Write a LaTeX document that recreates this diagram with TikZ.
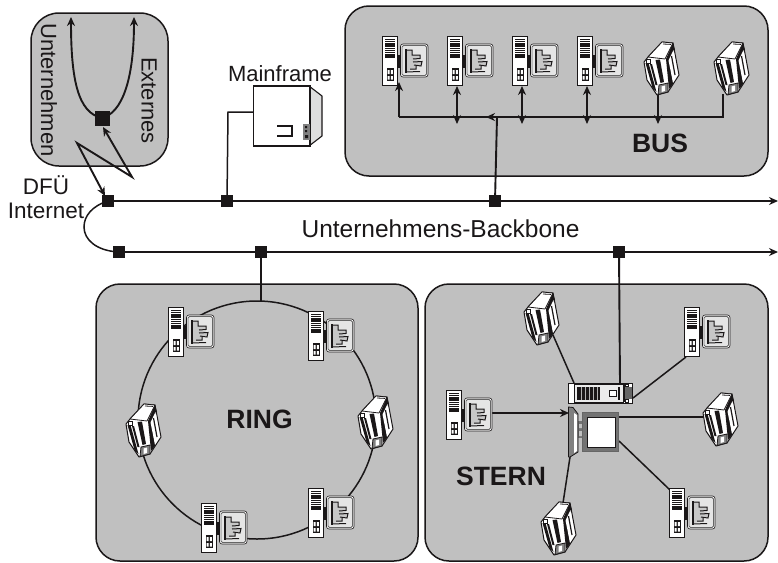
\documentclass[tikz,border=0pt]{standalone}
\usepackage{fontspec}
\setmainfont{Liberation Sans}
\usetikzlibrary{arrows.meta}
\definecolor{panel}{HTML}{C0C0C0}
\definecolor{ink}{HTML}{1A1718}
\tikzset{
  panelbox/.style={draw=ink,line width=1.5pt,fill=panel,rounded corners=24pt},
  sq/.style={fill=ink,draw=none,minimum size=12.5pt,inner sep=0pt,outer sep=0pt},
  wire/.style={draw=ink,line width=1.9pt},
  thin wire/.style={draw=ink,line width=1.5pt},
  tip/.style={-{Stealth[length=9pt,width=8pt]}},
  tips/.style={{Stealth[length=9pt,width=8pt]}-{Stealth[length=9pt,width=8pt]}},
  lab/.style={font=\fontsize{22}{22}\selectfont,text=ink,inner sep=0pt},
  biglab/.style={font=\fontsize{26.5}{26.5}\selectfont\bfseries,text=ink,inner sep=0pt},
  pcunit/.pic={
    \fill[ink] (15,19) rectangle (20,32);
    \draw[ink,line width=.7pt,fill=white] (0.4,0.4) rectangle (15.6,49.6);
    \foreach \yy in {3.5,5.7,7.9,10.1,12.3,14.5,16.7,18.9,21.1}
      \draw[ink,line width=1.3pt] (3,\yy) -- (13,\yy);
    \fill[ink] (4.5,32) rectangle (12,45);
    \fill[white] (5.7,34) rectangle (7.7,38) (8.9,34) rectangle (10.9,38)
                 (5.7,40) rectangle (7.7,43.6) (8.9,40) rectangle (10.9,43.6);
    \draw[ink,line width=.6pt,fill=white,rounded corners=2.5pt] (18.5,8) rectangle (46,41);
    \draw[black!60,line width=.8pt,fill=white!90!black,rounded corners=1.5pt] (20,9.5) rectangle (44.5,39.5);
    \fill[black!22] (24,14) -- (30,14) -- (30,19) -- (38,19) -- (38,22.5) -- (33,23) -- (40,25.5) -- (39,30) -- (34,29) -- (34,33) -- (24,35) -- cycle;
    \draw[ink,line width=1pt] (24,14) -- (30,14) -- (30,19) -- (38,19) -- (38,22.5) -- (31,23) (31,26) -- (40,25.5) -- (39,30) -- (32,29) (34,29) -- (34,33) -- (28,33);
    \draw[ink,line width=1.3pt] (24,13) -- (24,36.5);
    \draw[ink,line width=1pt] (24,36) -- (38,35.5);
  },
  printerunit/.pic={
    \draw[ink,line width=1pt,fill=white,line join=round] (0,20) -- (4,15) -- (18,0) -- (29,1) -- (35,33) -- (24,50) -- (13,53) -- (3,38) -- cycle;
    \draw[ink,line width=.8pt,fill=white,line join=round] (18,0) -- (29,1) -- (21,17) -- (4,15) -- cycle;
    \draw[ink,line width=.8pt] (19,2) -- (27,2.4);
    \fill[ink] (22,17) -- (29,1) -- (31,8) -- (25.5,19) -- (29,42) -- (25,47) -- cycle;
    \fill[white] (24.5,18.5) -- (29.5,8) -- (33,30) -- (28.5,38) -- cycle;
    \draw[ink,line width=1.2pt] (27.5,14) -- (31,33);
    \fill[ink] (11.5,18) -- (16,17.5) -- (20,40) -- (16.5,41) -- cycle;
    \fill[ink] (1.5,21) -- (4.5,21) -- (12.5,50) -- (8.5,46) -- cycle;
    \fill[ink] (6,22) -- (8,22) -- (13.5,43) -- (11.5,43) -- cycle;
    \draw[ink,line width=.8pt,fill=white] (2,17.5) rectangle (6,21);
    \draw[ink,line width=.8pt,fill=black!50] (15,43) -- (24,41) -- (24,50) -- (14,52.5) -- cycle;
    \fill[white] (17.5,44.5) -- (21,43.5) -- (21,49) -- (17.5,50) -- cycle;
  }
}
\begin{document}
\begin{tikzpicture}[x=1pt,y=-1pt]
\useasboundingbox (0,0) rectangle (778,562);
\fill[white] (0,0) rectangle (778,562);
% panels
\draw[panelbox,rounded corners=28pt] (31,13) rectangle (168,166);
\draw[panelbox] (345,6) rectangle (768,176);
\draw[panelbox] (96,284) rectangle (418,561);
\draw[panelbox] (425,284) rectangle (768,561);
% backbone stops
\node[sq] (s1) at (108,201) {};
\node[sq] (s2) at (227,201) {};
\node[sq] (s3) at (495,201) {};
\node[sq] (s4) at (119,252) {};
\node[sq] (s5) at (261,252) {};
\node[sq] (s6) at (619,252) {};
\node[sq,minimum size=15pt] (hub) at (102,118) {};
\coordinate (end1) at (778,201);
\coordinate (end2) at (778,252);
\coordinate (bendL) at (84,227);
\draw[wire,tip] (s1.center) -- (end1);
\draw[wire,tip] (s4.center) -- (end2);
\draw[thin wire] (s1.center) .. controls (92,206) and (84,216) .. (bendL) .. controls (84,240) and (97,251) .. (s4.center);
% top-left panel
\coordinate (upL) at (71,17);
\coordinate (upR) at (134,17);
\coordinate (zz1) at (77,143);
\coordinate (zz2) at (132,177);
\coordinate (zzA) at (105,196);
\coordinate (zzB) at (103,127);
\draw[wire,tip] (hub.center) .. controls (78,113) and (71,80) .. (upL);
\draw[wire,tip] (hub.center) .. controls (122,113) and (134,80) .. (upR);
\draw[wire,tips] (zzA) -- (zz1) -- (zz2) -- (zzB);
% mainframe
\coordinate (mfport) at (253,112);
\coordinate (mfbend) at (228,112);
\draw[thin wire] (s2.center) -- (mfbend) -- (mfport);
\draw[ink,line width=1.1pt,fill=black!13,line join=round] (309,86) -- (322,96) -- (322,136) -- (309,146) -- cycle;
\draw[ink,line width=1.4pt,fill=white] (253.5,86) rectangle (310,146);
\fill[black!50] (303,124) rectangle (309.5,140);
\fill[ink] (305,126) rectangle (307,128) (305,130) rectangle (307,132) (305,135) rectangle (308,138);
\draw[ink,line width=1.2pt] (277,126) -- (292,126) -- (292,136) -- (277,136);
% bus wiring
\coordinate (busL) at (399,117);
\coordinate (busR) at (723,117);
\coordinate (busjoin) at (497,117);
\coordinate (busup1) at (399,82);
\coordinate (busup2) at (457,86);
\coordinate (busdn2) at (457,124);
\coordinate (busup3) at (522,86);
\coordinate (busdn3) at (522,124);
\coordinate (busup4) at (587,86);
\coordinate (busdn4) at (587,124);
\coordinate (busp1) at (658,94);
\coordinate (busdn5) at (658,124);
\coordinate (busp2) at (723,94);
\coordinate (busjoinL) at (486,117);
\draw[wire] (busp2) -- (busR) -- (busL);
\draw[wire,tip] (busL) -- (busup1);
\draw[wire,tips] (busup2) -- (busdn2);
\draw[wire,tips] (busup3) -- (busdn3);
\draw[wire,tips] (busup4) -- (busdn4);
\draw[wire,tip] (busp1) -- (busdn5);
\draw[wire] (s3.center) -- (busjoin);
\draw[wire,tip] (busjoin) -- (busjoinL);
\pic at (382,36) {pcunit};
\pic at (447,36) {pcunit};
\pic at (512,36) {pcunit};
\pic at (577,36) {pcunit};
\pic at (644,42) {printerunit};
\pic at (714,42) {printerunit};
% ring
\coordinate (ringc) at (257,420);
\coordinate (ringtop) at (261,301);
\draw[thin wire] (ringc) circle[radius=119pt];
\draw[wire] (s5.center) -- (ringtop);
\pic at (168,307) {pcunit};
\pic at (308,311) {pcunit};
\pic at (308,488) {pcunit};
\pic at (201,503) {pcunit};
\pic at (126,404) {printerunit};
\pic at (358,396) {printerunit};
% star
\coordinate (srvtop) at (620,383);
\coordinate (srvtl) at (574,383);
\coordinate (srvr) at (633,398);
\coordinate (prTL) at (553,335);
\coordinate (pcTR) at (686,357);
\coordinate (monR) at (619,417);
\coordinate (prR) at (705,417);
\coordinate (monBR) at (619,441);
\coordinate (pcBR) at (670,490);
\coordinate (sideB) at (570,457);
\coordinate (prB) at (563,503);
\coordinate (pcL) at (492,413);
\coordinate (sideL) at (569,413);
\draw[wire] (s6.center) -- (srvtop);
\draw[thin wire] (prTL) -- (srvtl);
\draw[thin wire] (pcTR) -- (srvr);
\draw[wire] (monR) -- (prR);
\draw[thin wire] (monBR) -- (pcBR);
\draw[thin wire] (sideB) -- (prB);
\draw[wire,tip] (pcL) -- (sideL);
\pic at (524,292) {printerunit};
\pic at (684,307) {pcunit};
\pic at (703,393) {printerunit};
\pic at (669,488) {pcunit};
\pic at (446,390) {pcunit};
\pic at (541,502) {printerunit};
% server
\draw[ink,line width=1pt,fill=white] (568.5,383.5) rectangle (632.5,403);
\draw[ink,line width=.8pt,fill=black!8] (574,384) rectangle (623,402.5);
\fill[ink] (577,387) rectangle (600,400);
\foreach \xx in {581,585,589,593,597} \draw[white!70!black,line width=.6pt] (\xx,387) -- (\xx,400);
\draw[ink,line width=.7pt,fill=white] (609,390) rectangle (616,396);
\fill[ink] (617.5,387) rectangle (619.5,400);
\fill[black!60] (623,387) rectangle (632,399);
\fill[ink] (623,384) -- (623,402) -- (624.5,402) -- (624.5,384) -- cycle;
\draw[ink,line width=.6pt,fill=white] (625.5,384.5) rectangle (628.5,386.5) (625.5,399.5) rectangle (628.5,402);
% monitor
\fill[black!55] (578,421) rectangle (582,438);
\fill[panel] (579,424) rectangle (582,428) (579,431) rectangle (582,436);
\draw[ink,line width=.8pt,fill=black!50,line join=round] (568.5,407) -- (573,407.5) -- (578,414) -- (578,452) -- (570,457) -- (568.5,457) -- cycle;
\fill[white] (574,413) -- (577,415) -- (577,451) -- (574,453) -- cycle;
\draw[black!60,line width=.8pt,fill=black!55] (582.5,412) rectangle (618.5,451);
\draw[ink,line width=.7pt,fill=white] (587,417) rectangle (615,447);
% labels
\node[lab,rotate=-90] (tU) at (49,90) {Unternehmen};
\node[lab,rotate=-90] (tE) at (149,100.5) {Externes};
\node[lab,font=\fontsize{22.5}{22.5}\selectfont] (tD) at (46,185) {DFÜ};
\node[lab,font=\fontsize{22.5}{22.5}\selectfont] (tI) at (46,211) {Internet};
\node[lab] (tM) at (280,74) {Mainframe};
\node[lab,font=\fontsize{24.5}{24.5}\selectfont] (tB) at (440.5,229) {Unternehmens-Backbone};
\node[biglab] (tBus) at (660,143) {BUS};
\node[biglab] (tRing) at (259.5,419) {RING};
\node[biglab] (tStern) at (501,476) {STERN};
\end{tikzpicture}
\end{document}
